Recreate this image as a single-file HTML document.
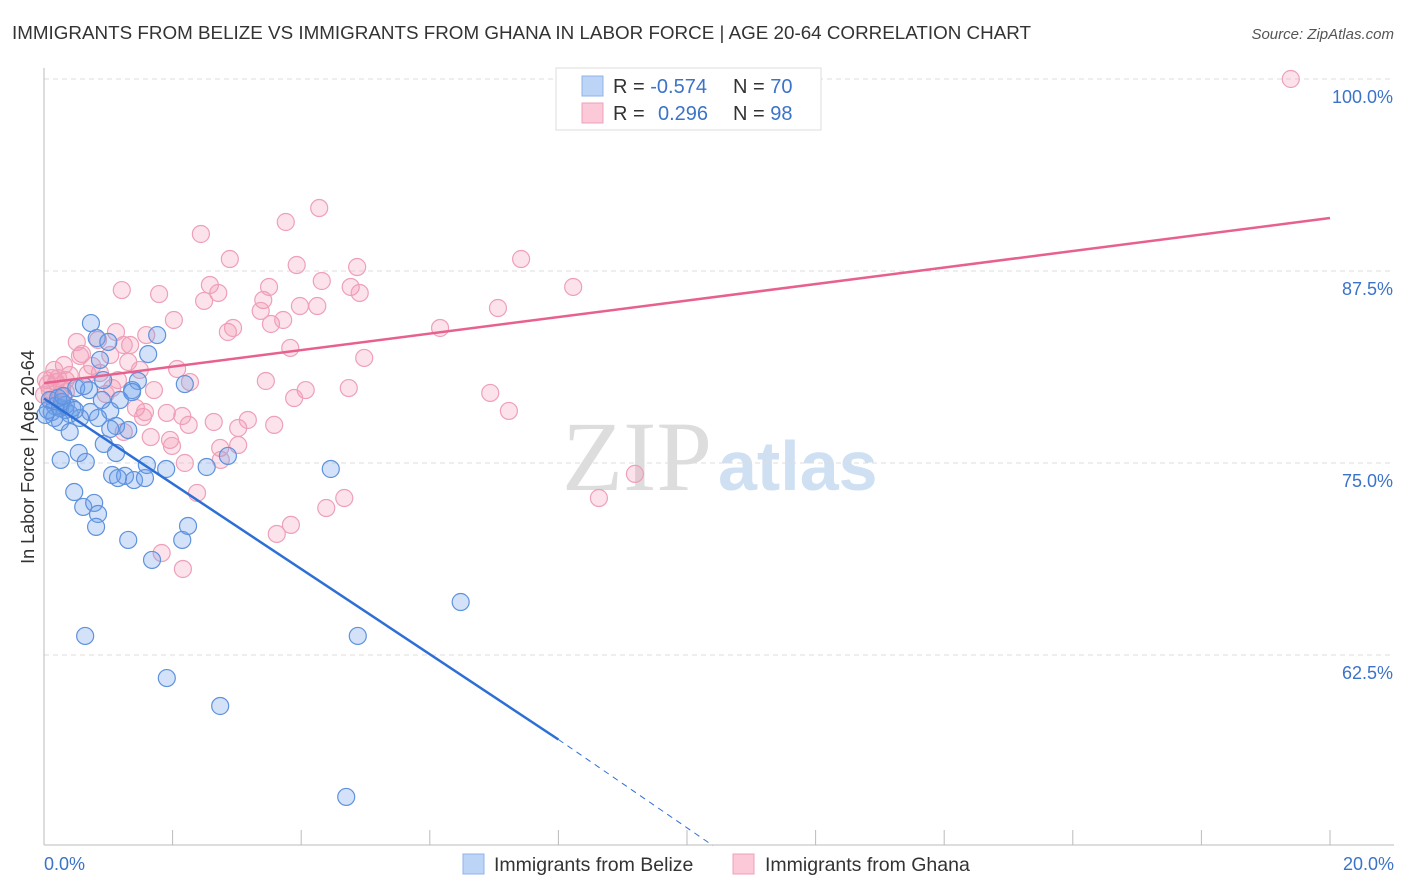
<!DOCTYPE html>
<html><head><meta charset="utf-8"><style>
body{margin:0;background:#fff;font-family:"Liberation Sans",sans-serif}
svg{display:block}
</style></head><body>
<svg width="1406" height="892" id="chart">
<text x="12" y="39" font-size="18" fill="#333" textLength="1019" lengthAdjust="spacingAndGlyphs">IMMIGRANTS FROM BELIZE VS IMMIGRANTS FROM GHANA IN LABOR FORCE | AGE 20-64 CORRELATION CHART</text>
<text x="1394" y="39" font-size="15" fill="#555" font-style="italic" text-anchor="end">Source: ZipAtlas.com</text>
<text x="712" y="490" font-size="100" fill="#ddd" text-anchor="end" font-family="Liberation Serif">ZIP</text>
<text x="718" y="490" font-size="70" fill="#cfe0f3" font-weight="bold">atlas</text>
<g id="grid"></g>
<g id="pts"></g>
<g id="trends"></g>
<text transform="translate(34,457) rotate(-90)" font-size="18" fill="#333" text-anchor="middle">In Labor Force | Age 20-64</text>
<g>
<rect x="556" y="68" width="265" height="62" fill="#fff" stroke="#ddd"/>
<rect x="582" y="76" width="21" height="20" fill="#bcd4f6" stroke="#8fb3e8"/>
<rect x="582" y="103" width="21" height="20" fill="#fcc9d8" stroke="#f0a0ba"/>
<text x="613" y="93" font-size="20" fill="#333">R = <tspan fill="#3b73c9">-0.574</tspan></text>
<text x="733" y="93" font-size="20" fill="#333">N = <tspan fill="#3b73c9">70</tspan></text>
<text x="613" y="120" font-size="20" fill="#333">R = <tspan fill="#3b73c9" x="658">0.296</tspan></text>
<text x="733" y="120" font-size="20" fill="#333">N = <tspan fill="#3b73c9">98</tspan></text>
</g>
<g>
<rect x="463" y="854" width="21" height="20" fill="#bcd4f6" stroke="#8fb3e8"/>
<text x="494" y="871" font-size="19.5" fill="#333">Immigrants from Belize</text>
<rect x="733" y="854" width="21" height="20" fill="#fcc9d8" stroke="#f0a0ba"/>
<text x="765" y="871" font-size="19.5" fill="#333">Immigrants from Ghana</text>
</g>
</svg>
<script>
const xTicks=[0,2,4,6,8,10,12,14,16,18,20];
const yTicks=[62.5,75,87.5,100];
const yTickLabels=["62.5%","75.0%","87.5%","100.0%"];
const belizeX=[0.73,0.82,1.62,1.76,2.19,1.46,1.37,0.92,0.50,0.70,0.90,1.03,0.72,0.40,0.33,0.12,0.17,0.06,0.25,0.40,0.56,0.84,1.12,1.03,1.31,0.93,1.12,0.54,0.26,0.65,1.06,1.26,1.40,1.57,1.60,1.90,2.53,2.86,1.15,0.47,0.61,0.78,0.84,0.81,1.31,2.15,2.24,1.68,0.64,1.91,2.74,4.70,4.88,6.48,4.46,0.09,0.25,0.34,0.16,0.28,0.02,0.44,0.62,1.18,1.37,0.87,1.00,0.22,0.30,0.48];
const belizeY=[84.11,83.13,82.09,83.33,80.14,80.34,79.75,80.40,79.88,79.75,79.10,78.39,78.32,78.19,78.45,78.32,78.71,78.45,77.67,77.02,77.93,77.93,77.41,77.22,77.15,76.24,75.65,75.65,75.20,75.07,74.22,74.16,73.89,74.02,74.87,74.61,74.74,75.46,74.02,73.11,72.14,72.40,71.68,70.84,69.99,69.99,70.90,68.69,63.74,61.00,59.18,53.26,63.74,65.95,74.61,79.10,78.58,78.78,77.93,78.97,78.13,78.58,80.01,79.10,79.62,81.71,82.88,79.23,79.36,78.45];
const ghanaX=[19.39,4.28,3.76,2.44,2.89,3.93,7.42,8.23,1.21,1.79,2.58,2.71,2.49,3.41,3.37,3.50,3.98,4.25,4.32,4.87,4.77,4.91,7.06,6.16,2.02,2.86,2.94,3.53,3.72,3.83,4.98,1.59,1.12,0.84,0.51,1.34,0.59,1.03,1.31,0.31,0.87,1.49,2.07,2.27,1.71,1.06,0.34,0.19,0.06,0.09,0.12,0.25,3.45,4.07,3.89,4.74,6.94,7.23,1.43,1.54,1.91,2.15,2.25,2.64,3.02,3.17,3.58,1.24,1.66,1.96,1.99,2.74,3.02,2.19,2.75,2.38,4.67,4.39,3.84,3.62,1.83,2.16,8.63,9.19,0.75,0.56,0.40,0.22,0.28,0.03,0.16,0.96,1.15,1.24,0.68,1.57,0.12,0.00,0.34];
const ghanaY=[100.0,91.60,90.69,89.91,88.28,87.89,88.28,86.46,86.26,86.00,86.59,86.07,85.55,85.61,84.90,86.46,85.22,85.22,86.85,87.76,86.46,86.07,85.09,83.79,84.31,83.53,83.79,84.05,84.31,82.49,81.84,83.33,83.53,83.01,82.88,82.68,82.10,82.03,81.58,81.38,80.86,81.06,81.12,80.27,79.75,79.88,80.40,80.27,80.14,79.75,79.10,79.36,80.34,79.75,79.23,79.88,79.56,78.39,78.58,78.00,78.26,78.06,77.48,77.67,77.28,77.80,77.48,77.02,76.69,76.50,76.11,75.98,76.17,75.00,75.20,73.05,72.72,72.07,70.97,70.38,69.14,68.10,72.72,74.29,81.32,81.97,80.73,80.53,79.88,80.40,81.06,79.49,80.40,82.68,80.79,78.32,80.53,79.43,79.62];
const belizeTrend=[[0,79.2],[8.0,57.0],[10.4,50.1]];
const ghanaTrend=[[0,80.2],[20,90.95]];
const NS="http://www.w3.org/2000/svg";
const X=v=>44+v/20*1286;
const Y=v=>79+(100-v)/12.5*192;
function mk(t,a,p){const e=document.createElementNS(NS,t);for(const k in a)e.setAttribute(k,a[k]);p.appendChild(e);return e;}
const grid=document.getElementById('grid');
yTicks.forEach((t,i)=>{
 const l=mk('line',{x1:44,x2:1394,y1:Y(t),y2:Y(t),stroke:'#ddd','stroke-dasharray':'5,4'},grid);
 
 
 const tx=mk('text',{x:1393,y:Y(t)+24,'font-size':18,fill:'#3b73c9','text-anchor':'end'},grid);
 tx.textContent=yTickLabels[i];
 
 
});
const ax=mk('line',{x1:44,x2:44,y1:68,y2:845,stroke:'#bbb'},grid);


const bx=mk('line',{x1:44,x2:1394,y1:845,y2:845,stroke:'#bbb'},grid);


xTicks.forEach(t=>{
 const l=mk('line',{x1:X(t),x2:X(t),y1:830,y2:845,stroke:'#bbb'},grid);
 
 
});
const xl0=mk('text',{x:44,y:870,'font-size':18,fill:'#3b73c9'},grid);xl0.textContent=xTicks[0].toFixed(1)+'%';


const xl1=mk('text',{x:1394,y:870,'font-size':18,fill:'#3b73c9','text-anchor':'end'},grid);xl1.textContent=xTicks[xTicks.length-1].toFixed(1)+'%';


const pts=document.getElementById('pts');
ghanaX.forEach((x,i)=>{
 const c=mk('circle',{cx:X(x),cy:Y(ghanaY[i]),r:8.5,fill:'rgba(245,150,180,0.28)',stroke:'#eea0b8','stroke-width':1.2},pts);
 
 
});
belizeX.forEach((x,i)=>{
 const c=mk('circle',{cx:X(x),cy:Y(belizeY[i]),r:8.5,fill:'rgba(110,160,235,0.3)',stroke:'#5e92dc','stroke-width':1.2},pts);
 
 
});
const tr=document.getElementById('trends');
const g1=mk('line',{x1:X(ghanaTrend[0][0]),y1:Y(ghanaTrend[0][1]),x2:X(ghanaTrend[1][0]),y2:Y(ghanaTrend[1][1]),stroke:'#e8608e','stroke-width':2.5},tr);


const b1=mk('line',{x1:X(belizeTrend[0][0]),y1:Y(belizeTrend[0][1]),x2:X(belizeTrend[1][0]),y2:Y(belizeTrend[1][1]),stroke:'#2e6fd6','stroke-width':2.5},tr);


const b2=mk('line',{x1:X(belizeTrend[1][0]),y1:Y(belizeTrend[1][1]),x2:X(belizeTrend[2][0]),y2:Y(belizeTrend[2][1]),stroke:'#2e6fd6','stroke-width':1,'stroke-dasharray':'6,5'},tr);


</script>
</body></html>
